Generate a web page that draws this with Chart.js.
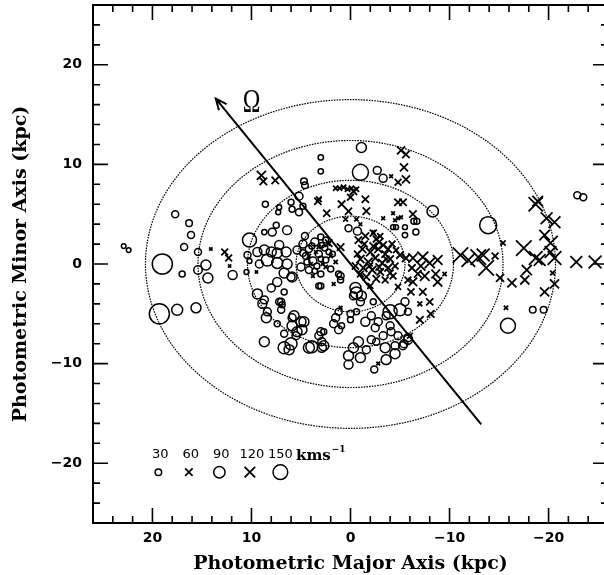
<!DOCTYPE html>
<html>
<head>
<meta charset="utf-8">
<script src="https://cdn.jsdelivr.net/npm/chart.js@4.4.0/dist/chart.umd.min.js"></script>
<style>
  html, body { margin: 0; padding: 0; background: #fff; overflow: hidden; }
  canvas { display: block; }
</style>
</head>
<body>
<canvas id="c" width="610" height="575"></canvas>
<script>
// axis ticks (kpc)
const xTicks = [20, 10, 0, -10, -20];
const yTicks = [20, 10, 0, -10, -20];

// dotted ellipses, semi axes (kpc)
const ellipseMajor = [5.5, 10.4, 15.4, 20.7];
const ellipseMinor = [4.8, 8.4, 12.4, 16.5];

// rotation arrow, tail and head (kpc)
const arrowTail = [-13.2, -16.1];
const arrowHead = [13.6, 16.6];
const omegaPos = [10.0, 16.2];

// velocity key (km/s)
const legendSpeeds = [30, 60, 90, 120, 150];

// open circles: [major, minor, |v| km/s]
const circles = [
  [22.9, 1.8, 15], [22.4, 1.4, 15], [19.0, 0.0, 280],
  [17.7, 5.0, 34], [16.3, 4.1, 30], [16.1, 2.9, 34], [16.8, 1.7, 34], [15.4, 1.2, 34],
  [17.0, -1.0, 25], [15.4, -0.6, 50], [14.6, -0.1, 69], [14.4, -1.4, 69], [11.9, -1.1, 56],
  [19.3, -5.0, 280], [17.5, -4.6, 84], [15.6, -4.4, 69],
  [3.0, 10.7, 20], [3.0, 9.3, 20], [-1.1, 11.7, 69], [-1.0, 9.2, 178], [-2.7, 9.4, 44], [-3.3, 8.6, 44],
  [4.7, 8.3, 30], [4.6, 7.9, 30],
  [8.6, 6.0, 25], [6.0, 6.2, 25], [7.2, 5.7, 17], [7.3, 5.2, 17], [5.2, 6.8, 44], [5.9, 5.5, 25], [5.2, 5.2, 34], [4.8, 5.8, 25],
  [6.4, 3.4, 56], [7.9, 3.2, 44], [8.7, 3.2, 20], [7.5, 3.9, 25],
  [0.2, 3.6, 34], [-0.7, 3.3, 44],
  [-4.3, 3.7, 17], [-4.6, 3.7, 17], [-5.5, 3.7, 17], [-5.5, 2.9, 20], [-6.4, 4.3, 25], [-6.7, 4.3, 25], [-6.6, 3.2, 25],
  [-8.3, 5.3, 90], [-13.9, 3.9, 200],
  [-22.9, 6.9, 34], [-23.5, 6.7, 34],
  [-18.4, -4.6, 30], [-19.5, -4.6, 30], [-15.9, -6.2, 156],
  [10.2, 2.4, 136], [10.4, 0.9, 34], [10.2, 0.3, 17], [9.4, 1.2, 56], [8.7, 1.4, 69], [8.0, 1.2, 69],
  [7.4, 1.1, 69], [7.2, 1.9, 56], [6.5, 1.2, 69], [9.2, 0.0, 44], [8.4, 0.4, 100], [7.4, 0.1, 84],
  [6.4, 0.0, 69], [10.5, -0.8, 17], [5.9, -1.3, 69], [6.7, -0.9, 69], [7.4, -1.8, 56], [6.0, -1.3, 44],
  [9.4, -3.0, 69], [8.7, -3.6, 44], [8.9, -4.0, 56], [8.4, -4.8, 44], [7.0, -3.8, 34], [6.9, -4.1, 25],
  [8.0, -2.4, 44], [6.7, -2.8, 25], [8.5, -5.4, 69], [7.4, -6.0, 25], [7.0, -4.6, 34], [5.9, -5.4, 44],
  [6.7, -7.0, 34], [8.7, -7.8, 69], [6.7, -8.4, 100], [6.0, -8.0, 100], [5.5, -7.2, 44],
  [7.2, -3.8, 34], [5.7, -5.2, 69], [5.0, -5.8, 69], [5.4, -6.8, 69], [6.2, -8.6, 69], [3.9, -8.3, 100],
  [2.9, -7.8, 44], [3.2, -7.2, 44], [2.7, -6.8, 25], [5.9, -6.2, 69], [4.7, -5.8, 69], [4.9, -6.6, 69],
  [3.0, -6.8, 44], [2.7, -8.2, 69], [2.9, -8.4, 56], [4.2, -8.4, 84],
  [3.0, -1.0, 25], [3.0, -2.2, 25], [1.0, -1.2, 34], [1.2, -1.0, 25], [1.0, -1.6, 25], [3.2, -2.2, 25],
  [4.8, 2.0, 44], [4.2, 1.5, 34], [3.6, 2.2, 44], [4.5, 0.8, 34], [3.8, 0.3, 44], [3.2, 1.0, 34],
  [2.6, 1.6, 25], [5.0, -0.3, 44], [4.2, -0.6, 34], [3.4, -0.2, 25], [2.5, 0.4, 25], [2.0, -0.5, 25],
  [4.6, 2.8, 34], [3.0, 2.7, 25], [5.4, 1.4, 44], [1.8, 1.0, 20], [2.5, 2.4, 25],
  [3.9, 1.8, 25], [2.9, 1.9, 20], [4.4, 0.2, 25], [3.0, 0.5, 20], [2.2, 1.2, 20], [3.6, -0.7, 20], [4.8, 1.1, 30],
  [-0.5, -2.4, 84], [-0.6, -2.9, 100], [-1.1, -3.2, 69], [-0.3, -3.2, 44], [-1.0, -3.8, 44], [-2.3, -3.8, 25],
  [1.2, -4.8, 34], [1.5, -5.4, 44], [1.7, -6.0, 44], [1.2, -6.6, 44], [0.9, -6.2, 25], [0.0, -5.0, 34],
  [0.0, -5.6, 25], [-0.6, -4.8, 25], [-1.5, -5.8, 56], [-2.1, -5.2, 44], [-2.8, -5.8, 44], [-2.5, -6.4, 44],
  [-3.6, -5.2, 44], [-4.0, -6.2, 44], [-4.0, -4.8, 136], [-5.0, -4.6, 100], [-5.5, -3.8, 44], [-5.8, -4.8, 34],
  [-0.8, -7.8, 69], [-0.3, -8.4, 69], [0.2, -9.2, 69], [0.2, -10.1, 56], [-1.0, -9.4, 69], [-1.6, -8.6, 44],
  [-2.1, -7.6, 44], [-2.6, -7.8, 34], [-3.5, -8.4, 69], [-3.6, -9.6, 69], [-4.5, -9.0, 69], [-4.5, -8.2, 44],
  [-5.3, -8.2, 44], [-5.8, -7.6, 56], [-4.8, -7.2, 44], [-4.1, -6.8, 44], [-3.3, -7.2, 44], [-2.4, -10.6, 34],
  [-5.8, -7.4, 44], [-5.4, -8.0, 44]
];

// crosses: [major, minor, |v| km/s]
const crosses = [
  [14.1, 1.5, 12], [12.7, 1.2, 50], [12.3, 0.6, 50], [12.2, -0.2, 10], [9.5, -0.8, 10],
  [9.0, 8.9, 90], [8.8, 8.3, 60], [7.6, 8.4, 60],
  [3.3, 6.3, 55], [2.4, 5.1, 55], [0.9, 6.0, 60], [0.2, 5.3, 55], [0.5, 4.5, 25],
  [1.5, 7.6, 30], [1.1, 7.6, 30], [0.7, 7.7, 30], [0.3, 7.5, 30], [-0.1, 7.6, 30], [-0.6, 7.5, 30],
  [-0.3, 7.3, 60], [-1.5, 6.5, 60], [0.0, 6.7, 50], [3.2, 6.5, 35], [-1.6, 5.3, 60], [-0.6, 4.5, 20], [-1.0, 4.0, 15],
  [-5.1, 11.4, 70], [-5.6, 11.0, 60], [-5.4, 9.7, 70], [-5.6, 8.5, 70], [-4.8, 8.2, 50], [-4.1, 8.8, 15],
  [-4.8, 6.2, 60], [-5.3, 6.2, 60], [-4.3, 5.1, 15], [-4.8, 4.6, 15], [-4.5, 4.4, 15], [-5.1, 4.7, 15],
  [-6.3, 5.0, 60], [-3.3, 4.6, 15], [-2.3, 3.2, 15],
  [2.2, 2.1, 60], [1.0, 1.7, 60],
  [3.5, 1.2, 15], [2.8, 0.0, 15], [4.0, 0.0, 15], [2.2, 2.0, 15], [1.5, 0.2, 20], [1.7, -2.0, 15], [1.0, -4.4, 15],
  [3.2, 1.7, 20], [4.2, 0.8, 20], [2.5, -0.3, 20], [3.8, -1.2, 15], [2.0, 0.8, 20],
  [-0.8, 2.4, 60], [-1.5, 2.8, 60], [-2.3, 3.1, 55], [-2.9, 2.2, 70], [-1.2, 1.5, 70], [-2.0, 1.2, 80],
  [-2.8, 1.5, 70], [-3.5, 1.0, 60], [-1.0, 0.5, 70], [-1.8, 0.2, 80], [-2.5, 0.6, 70], [-3.2, 0.1, 70],
  [-4.0, 0.5, 60], [-1.3, -0.4, 70], [-2.2, -0.6, 70], [-3.0, -0.8, 60], [-3.8, -0.4, 60], [-4.5, -0.2, 50],
  [-1.6, -1.3, 60], [-2.6, -1.5, 60], [-3.5, -1.6, 50], [-4.3, -1.2, 50], [-5.0, 0.9, 60], [-5.6, 0.6, 70],
  [-6.2, -0.4, 60], [-3.3, 1.9, 60], [-4.2, 2.0, 50], [-0.5, -0.2, 55], [-2.0, -2.2, 40], [-4.8, -2.3, 40],
  [-5.8, -1.6, 50], [-6.8, -1.0, 60],
  [-1.4, 2.0, 50], [-2.6, 2.5, 50], [-3.8, 1.5, 60], [-1.9, -0.2, 60], [-2.9, -0.3, 60], [-3.6, 0.5, 50],
  [-1.0, -1.0, 50], [-4.0, -0.9, 50], [-2.3, 1.8, 60], [-0.7, 1.0, 50], [-3.0, 2.8, 40], [-4.6, 1.4, 40],
  [-6.3, 0.6, 90], [-7.3, 0.7, 130], [-8.0, 0.1, 110], [-8.8, 0.4, 100], [-7.1, -0.2, 90], [-6.3, -1.8, 80],
  [-7.5, -1.2, 100], [-8.8, -1.8, 90], [-9.5, -1.0, 20], [-8.6, -1.0, 80],
  [-7.0, -5.6, 60], [-8.1, -5.0, 60], [-8.0, -3.8, 55], [-7.3, -2.8, 60], [-6.1, -2.8, 55], [-7.0, -4.0, 25],
  [-6.0, -7.2, 35], [-2.8, -10.0, 15],
  [-11.1, 0.9, 260], [-11.9, 0.4, 200], [-12.9, 0.7, 260], [-13.4, 0.9, 180], [-13.7, -0.4, 260],
  [-14.6, 0.8, 50], [-15.4, 2.1, 30], [-15.1, -1.4, 70], [-16.3, -1.9, 90], [-17.5, 1.6, 260],
  [-17.8, -0.6, 110], [-17.6, -1.6, 90], [-18.7, 6.0, 220], [-18.9, 6.3, 120], [-19.8, 4.6, 150],
  [-20.6, 4.2, 150], [-19.6, 2.9, 120], [-20.2, 2.1, 220], [-18.7, 0.6, 200], [-19.1, 0.4, 150],
  [-20.6, 0.6, 200], [-20.2, 1.2, 150], [-20.4, -0.9, 25], [-20.6, -2.0, 90], [-19.6, -2.8, 90],
  [-22.8, 0.2, 150], [-24.7, 0.2, 180], [-15.7, -4.4, 20]
];

// symbol size grows with speed
function circleRadius(v) { return 0.6 * Math.sqrt(v); }
function crossRadius(v) { return 0.68 * Math.sqrt(v); }
function fmt(v) { return v < 0 ? '\u2212' + (-v) : String(v); }
const toPoints = arr => arr.map(p => ({ x: p[0], y: p[1], v: p[2] }));

const decor = {
  id: 'decor',
  beforeDatasetsDraw(chart) {
    const { ctx, scales: { x, y } } = chart;
    const cx = x.getPixelForValue(0), cy = y.getPixelForValue(0);
    ctx.save();
    ctx.strokeStyle = '#000';
    ctx.lineWidth = 1.2;
    ctx.setLineDash([1.6, 1.1]);
    ellipseMajor.forEach((a, i) => {
      const rx = Math.abs(x.getPixelForValue(a) - cx);
      const ry = Math.abs(y.getPixelForValue(ellipseMinor[i]) - cy);
      ctx.beginPath();
      ctx.ellipse(cx, cy, rx, ry, 0, 0, Math.PI * 2);
      ctx.stroke();
    });
    ctx.restore();
  },
  afterDraw(chart) {
    const { ctx, chartArea: a, scales: { x, y } } = chart;
    ctx.save();
    ctx.strokeStyle = '#000';
    ctx.fillStyle = '#000';

    // frame + inward ticks on all sides
    ctx.lineWidth = 2;
    ctx.strokeRect(a.left, a.top, a.right - a.left, a.bottom - a.top);
    ctx.lineWidth = 1.6;
    ctx.beginPath();
    for (let v = -26; v <= 26; v += 2) {
      const len = v % 10 === 0 ? 15 : 7;
      const px = x.getPixelForValue(v);
      if (px > a.left + 2 && px < a.right - 2) {
        ctx.moveTo(px, a.bottom); ctx.lineTo(px, a.bottom - len);
        ctx.moveTo(px, a.top); ctx.lineTo(px, a.top + len);
      }
      const py = y.getPixelForValue(v);
      if (py > a.top + 2 && py < a.bottom - 2) {
        ctx.moveTo(a.left, py); ctx.lineTo(a.left + len, py);
        ctx.moveTo(a.right, py); ctx.lineTo(a.right - len, py);
      }
    }
    ctx.stroke();

    // tick labels
    ctx.font = 'bold 14px "DejaVu Sans"';
    ctx.textAlign = 'center';
    ctx.textBaseline = 'middle';
    xTicks.forEach(v => ctx.fillText(fmt(v), x.getPixelForValue(v), a.bottom + 15));
    ctx.textAlign = 'right';
    yTicks.forEach(v => ctx.fillText(fmt(v), a.left - 11, y.getPixelForValue(v)));

    // axis titles
    ctx.font = 'bold 19px "DejaVu Serif"';
    ctx.textAlign = 'center';
    ctx.textBaseline = 'alphabetic';
    ctx.fillText('Photometric Major Axis (kpc)', x.getPixelForValue(0), 569);
    ctx.save();
    ctx.translate(26, y.getPixelForValue(0));
    ctx.rotate(-Math.PI / 2);
    ctx.fillText('Photometric Minor Axis (kpc)', 0, 0);
    ctx.restore();

    // rotation arrow
    const tx = x.getPixelForValue(arrowTail[0]), ty = y.getPixelForValue(arrowTail[1]);
    const hx = x.getPixelForValue(arrowHead[0]), hy = y.getPixelForValue(arrowHead[1]);
    const ang = Math.atan2(hy - ty, hx - tx);
    ctx.lineWidth = 2;
    ctx.beginPath();
    ctx.moveTo(tx, ty); ctx.lineTo(hx, hy);
    ctx.moveTo(hx - 12 * Math.cos(ang - 0.42), hy - 12 * Math.sin(ang - 0.42));
    ctx.lineTo(hx, hy);
    ctx.lineTo(hx - 12 * Math.cos(ang + 0.42), hy - 12 * Math.sin(ang + 0.42));
    ctx.stroke();

    ctx.save();
    ctx.translate(x.getPixelForValue(omegaPos[0]), y.getPixelForValue(omegaPos[1]));
    ctx.scale(0.72, 1);
    ctx.font = '33px "Liberation Serif"';
    ctx.textAlign = 'center';
    ctx.textBaseline = 'middle';
    ctx.fillText('\u03A9', 0, 1);
    ctx.restore();

    // velocity key
    const ky = y.getPixelForValue(-20.9);
    const ly = y.getPixelForValue(-19.1);
    ctx.font = '13px "DejaVu Sans"';
    ctx.textAlign = 'center';
    ctx.textBaseline = 'middle';
    legendSpeeds.forEach((v, i) => {
      const kx = x.getPixelForValue(19.4 - i * 3.08);
      ctx.fillText(String(v), kx + (i < 4 ? 2 : 0), ly);
      ctx.beginPath();
      if (i % 2 === 0) {
        ctx.lineWidth = 1.5;
        ctx.arc(kx, ky, circleRadius(v), 0, Math.PI * 2);
      } else {
        ctx.lineWidth = 1.8;
        const h = crossRadius(v) * Math.SQRT1_2;
        ctx.moveTo(kx - h, ky - h); ctx.lineTo(kx + h, ky + h);
        ctx.moveTo(kx + h, ky - h); ctx.lineTo(kx - h, ky + h);
      }
      ctx.stroke();
    });
    ctx.textAlign = 'left';
    ctx.font = 'bold 15px "DejaVu Serif"';
    const kmsX = x.getPixelForValue(5.5);
    ctx.fillText('kms', kmsX, ly + 2);
    const w = ctx.measureText('kms').width;
    ctx.font = 'bold 9px "DejaVu Serif"';
    ctx.fillText('\u22121', kmsX + w + 1, ly - 5);
    ctx.restore();
  }
};

new Chart(document.getElementById('c'), {
  type: 'scatter',
  data: {
    datasets: [
      {
        data: toPoints(circles),
        pointStyle: 'circle',
        pointRadius: c => circleRadius(c.raw.v),
        backgroundColor: 'rgba(0,0,0,0)',
        borderColor: '#000',
        borderWidth: 1.5
      },
      {
        data: toPoints(crosses),
        pointStyle: 'crossRot',
        pointRadius: c => crossRadius(c.raw.v),
        backgroundColor: 'rgba(0,0,0,0)',
        borderColor: '#000',
        borderWidth: 1.8
      }
    ]
  },
  options: {
    responsive: false,
    animation: false,
    events: [],
    layout: { autoPadding: false, padding: { left: 93, top: 5, right: 2, bottom: 52 } },
    plugins: { legend: { display: false }, tooltip: { enabled: false } },
    scales: {
      x: { type: 'linear', min: -26, max: 26, reverse: true, display: false },
      y: { type: 'linear', min: -26, max: 26, display: false }
    }
  },
  plugins: [decor]
});
</script>
</body>
</html>
